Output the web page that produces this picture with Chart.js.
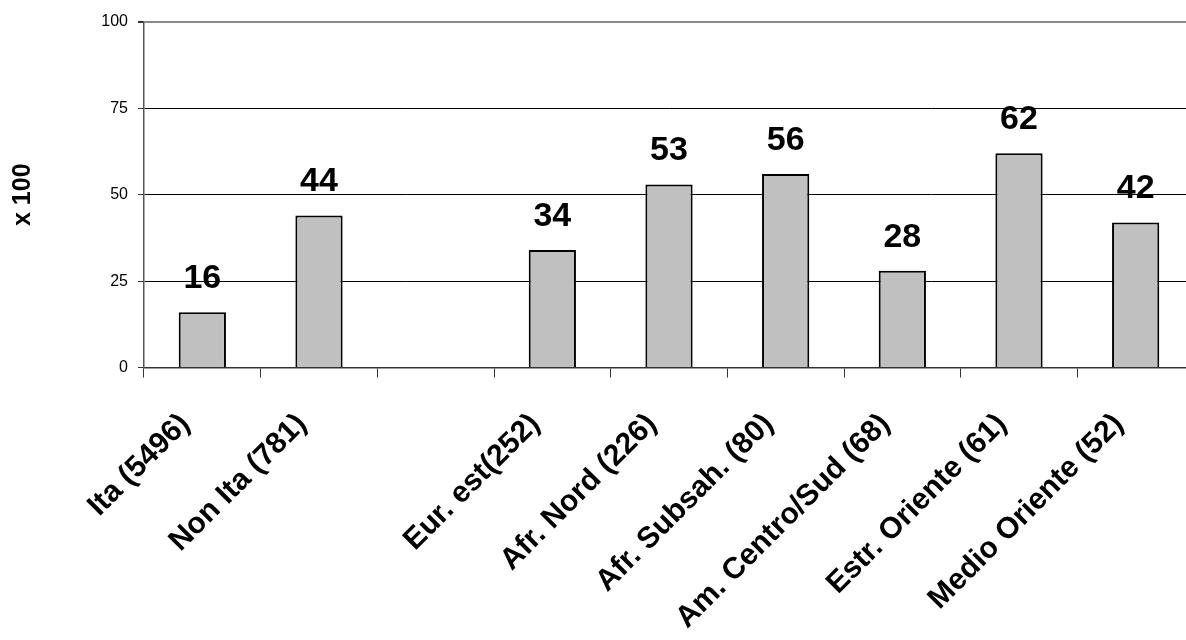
<!DOCTYPE html>
<html>
<head>
<meta charset="utf-8">
<script src="https://cdn.jsdelivr.net/npm/chart.js@4.4.1/dist/chart.umd.min.js"></script>
<style>
  html, body { margin: 0; padding: 0; background: #fff; overflow: hidden; }
  #wrap { width: 1200px; height: 640px; }
</style>
</head>
<body>
<div id="wrap"><canvas id="c" width="1200" height="640"></canvas></div>
<script>
const categories = ["Ita (5496)", "Non Ita (781)", "", "Eur. est(252)", "Afr. Nord (226)", "Afr. Subsah. (80)", "Am. Centro/Sud (68)", "Estr. Oriente (61)", "Medio Oriente (52)"];
const values = [16, 44, null, 34, 53, 56, 28, 62, 42];
const yTicks = [0, 25, 50, 75, 100];
const yTitle = "x 100";

const FONT = "'Liberation Sans', Arial, Helvetica, sans-serif";

const valueLabels = {
  id: 'valueLabels',
  afterDatasetsDraw(chart) {
    const ctx = chart.ctx;
    const meta = chart.getDatasetMeta(0);
    ctx.save();
    ctx.font = "bold 34px " + FONT;
    ctx.fillStyle = '#000';
    ctx.textAlign = 'center';
    ctx.textBaseline = 'alphabetic';
    meta.data.forEach((el, i) => {
      const v = values[i];
      if (v === null || v === undefined) return;
      ctx.fillText(String(v), el.x, el.y - 24);
    });
    ctx.restore();
  }
};

new Chart(document.getElementById('c'), {
  type: 'bar',
  data: {
    labels: categories,
    datasets: [{
      data: values,
      backgroundColor: '#c0c0c0',
      borderColor: '#000',
      borderWidth: 2,
      borderSkipped: 'bottom',
      categoryPercentage: 1.0,
      barPercentage: 0.405
    }]
  },
  options: {
    responsive: false,
    animation: false,
    events: [],
    layout: { padding: { top: 22, right: 6, bottom: 0, left: 0 } },
    plugins: {
      legend: { display: false },
      tooltip: { enabled: false },
      title: { display: false }
    },
    scales: {
      x: {
        offset: true,
        grid: {
          offset: true,
          drawOnChartArea: false,
          drawTicks: true,
          tickLength: 10,
          color: '#333',
          lineWidth: 1
        },
        border: { color: '#333', width: 1.5 },
        ticks: {
          autoSkip: false,
          minRotation: 45,
          maxRotation: 45,
          padding: 29,
          labelOffset: -17,
          color: '#000',
          font: { family: FONT, size: 30, weight: 'bold' }
        },
        afterFit(scale) { scale.height = 272.5; }
      },
      y: {
        min: 0,
        max: 100,
        afterBuildTicks(scale) { scale.ticks = yTicks.map(v => ({ value: v })); },
        grid: {
          color: (c) => (c.tick && c.tick.value === 100) ? '#8a8a8a' : '#000',
          lineWidth: (c) => (c.tick && c.tick.value === 100) ? 2 : 1,
          tickColor: '#333',
          tickLength: 6,
          drawTicks: true
        },
        border: { color: '#555', width: 1.5 },
        ticks: {
          padding: 10,
          color: '#000',
          font: { family: FONT, size: 16 }
        },
        title: {
          display: true,
          text: yTitle,
          color: '#000',
          font: { family: FONT, size: 25, weight: 'bold' },
          padding: { top: 8, bottom: 0 }
        },
        afterFit(scale) { scale.width = 144; }
      }
    }
  },
  plugins: [valueLabels]
});
</script>
</body>
</html>
